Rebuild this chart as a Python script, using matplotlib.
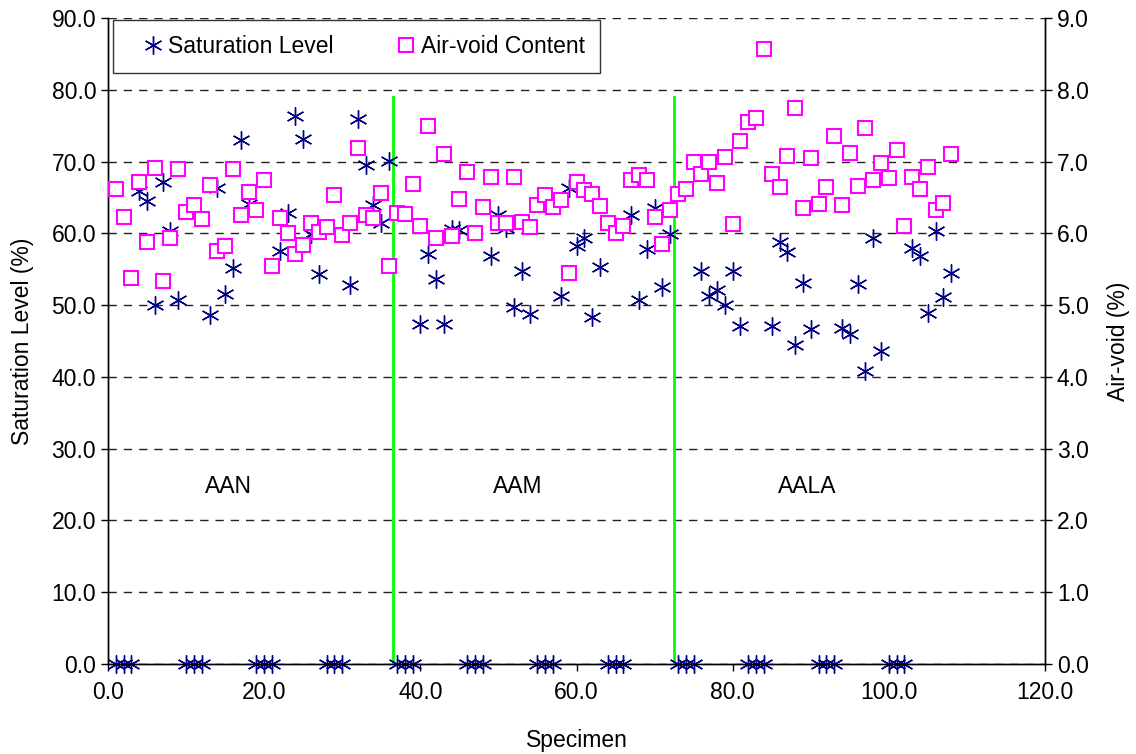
import matplotlib
matplotlib.use("Agg")
import matplotlib.pyplot as plt
import numpy as np

plt.rcParams['font.family'] = ['Liberation Sans', 'DejaVu Sans']

specimen = list(range(1, 109))

saturation = [
    0, 0, 0, 65.9, 64.5, 50.0, 67.1, 60.3, 50.7,
    0, 0, 0, 48.6, 66.3, 51.6, 55.2, 73.0, 64.1,
    0, 0, 0, 57.5, 62.8, 76.3, 73.1, 59.9, 54.4,
    0, 0, 0, 52.8, 75.9, 69.5, 64.0, 61.5, 70.1,
    0, 0, 0, 47.3, 57.1, 53.7, 47.3, 60.6, 60.5,
    0, 0, 0, 56.8, 62.6, 60.8, 49.8, 54.7, 48.7,
    0, 0, 0, 51.3, 66.3, 58.2, 59.3, 48.3, 55.3,
    0, 0, 0, 62.6, 50.7, 57.8, 63.5, 52.5, 59.9,
    0, 0, 0, 54.7, 51.2, 52.1, 50.0, 54.8, 47.1,
    0, 0, 0, 47.1, 58.8, 57.4, 44.5, 53.1, 46.7,
    0, 0, 0, 46.8, 46.0, 52.9, 40.8, 59.3, 43.6,
    0, 0, 0, 57.9, 56.9, 48.9, 60.3, 51.1, 54.5,
]

air_void = [
    6.62, 6.23, 5.38, 6.71, 5.88, 6.91, 5.33, 5.94, 6.89,
    6.30, 6.39, 6.20, 6.67, 5.76, 5.82, 6.90, 6.25, 6.58,
    6.33, 6.74, 5.55, 6.21, 6.00, 5.71, 5.84, 6.14, 6.02,
    6.09, 6.54, 5.97, 6.14, 7.19, 6.26, 6.22, 6.56, 5.55,
    6.28, 6.27, 6.69, 6.10, 7.50, 5.93, 7.10, 5.96, 6.48,
    6.85, 6.01, 6.37, 6.78, 6.14, 6.14, 6.78, 6.16, 6.09,
    6.39, 6.54, 6.37, 6.47, 5.45, 6.72, 6.60, 6.55, 6.38,
    6.15, 6.00, 6.10, 6.74, 6.81, 6.75, 6.23, 5.85, 6.32,
    6.55, 6.62, 6.99, 6.83, 7.00, 6.70, 7.07, 6.13, 7.29,
    7.55, 7.61, 8.57, 6.83, 6.65, 7.08, 7.75, 6.35, 7.05,
    6.41, 6.64, 7.35, 6.40, 7.12, 6.66, 7.47, 6.74, 6.98,
    6.77, 7.16, 6.10, 6.78, 6.62, 6.92, 6.33, 6.42, 7.10,
]

group_names = ["AAN", "AAM", "AALA"]
group_label_x = [15.4, 52.5, 89.6]
group_label_y = 24.7
divider_x = [36.5, 72.5]
divider_top = 79.0

fs = 16.5
fig = plt.figure(figsize=(11.36, 7.54), dpi=100)
ax = fig.add_axes([108/1136, 1 - 664/754, (1045 - 108)/1136, (664 - 18)/754])
ax2 = ax.twinx()

ax.set_xlim(0, 120)
ax.set_ylim(0, 90)
ax2.set_ylim(0, 9)

ax.set_xticks(np.arange(0, 121, 20))
ax.set_yticks(np.arange(0, 91, 10))
ax2.set_yticks(np.arange(0, 9.1, 1))
ax.xaxis.set_major_formatter(matplotlib.ticker.FormatStrFormatter('%.1f'))
ax.yaxis.set_major_formatter(matplotlib.ticker.FormatStrFormatter('%.1f'))
ax2.yaxis.set_major_formatter(matplotlib.ticker.FormatStrFormatter('%.1f'))

for a in (ax, ax2):
    a.tick_params(labelsize=fs, direction='out', length=5, width=1, color='black')
    a.spines['top'].set_visible(False)
    for side in ('left', 'right', 'bottom'):
        a.spines[side].set_linewidth(1.0)
ax.tick_params(axis='x', pad=7)

ax.yaxis.grid(True, linestyle=(0, (6, 5)), color='#222222', linewidth=1.0)
ax.set_axisbelow(True)

for xv in divider_x:
    ax.plot([xv, xv], [0, divider_top], color='#00FF00', linewidth=2.0, zorder=2)

asterisk = (6, 2, 0)
h1, = ax.plot(specimen, saturation, linestyle='none', marker=asterisk,
              markersize=13, markeredgewidth=1.0, color='#000080',
              clip_on=False, zorder=3, label='Saturation Level')
h2, = ax2.plot(specimen, air_void, linestyle='none', marker='s',
               markersize=10, markeredgewidth=1.5, markeredgecolor='#FF00FF',
               markerfacecolor='white', clip_on=False, zorder=3,
               label='Air-void Content')

for name, xv in zip(group_names, group_label_x):
    ax.text(xv, group_label_y, name, fontsize=fs, ha='center', va='center')

ax.set_xlabel('Specimen', fontsize=fs, labelpad=18)
ax.set_ylabel('Saturation Level (%)', fontsize=fs, labelpad=13)
ax2.set_ylabel('Air-void (%)', fontsize=fs, labelpad=13)

leg = ax2.legend([h1, h2], ['Saturation Level', 'Air-void Content'],
                 loc='upper left', bbox_to_anchor=(5/937, 1 - 2/646),
                 ncol=2, fontsize=fs, frameon=True, fancybox=False,
                 edgecolor='black', borderpad=0.65, handlelength=2.17,
                 handletextpad=-0.43, columnspacing=2.1, borderaxespad=0)
leg.get_frame().set_linewidth(1.0)

fig.savefig('out.png', dpi=100)
